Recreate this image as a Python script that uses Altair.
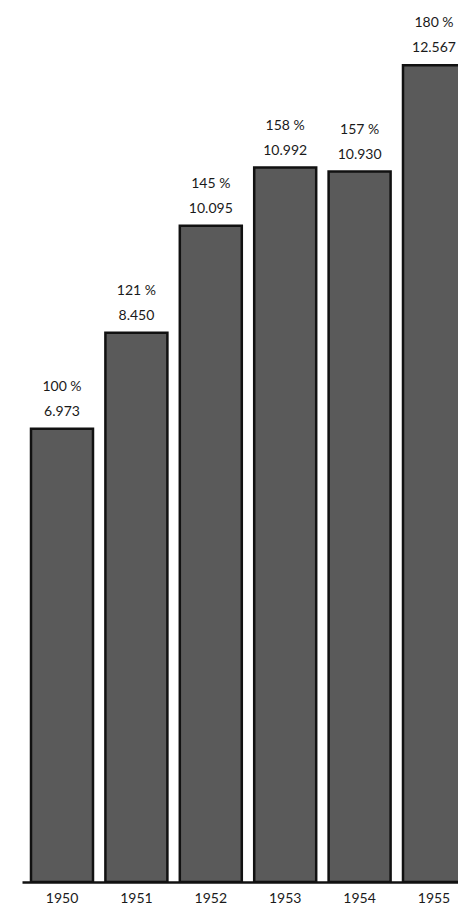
import altair as alt
import pandas as pd

years = ["1950", "1951", "1952", "1953", "1954", "1955"]
values = [6.973, 8.450, 10.095, 10.992, 10.930, 12.567]
value_labels = ["6.973", "8.450", "10.095", "10.992", "10.930", "12.567"]
pct_labels = ["100 %", "121 %", "145 %", "158 %", "157 %", "180 %"]

df = pd.DataFrame({"year": years, "value": values, "vlabel": value_labels, "plabel": pct_labels})

FONT = "Lato"

x = alt.X(
    "year:N",
    sort=years,
    title=None,
    scale=alt.Scale(range=[0, 452], paddingInner=0.1667, paddingOuter=0.121),
    axis=alt.Axis(
        labelAngle=0,
        ticks=False,
        labelPadding=9,
        labelFontSize=14,
        labelFont=FONT,
        labelColor="#1a1a1a",
        domainColor="#111",
        domainWidth=2.5,
        grid=False,
    ),
)
y = alt.Y(
    "value:Q",
    title=None,
    scale=alt.Scale(domain=[0, 13.57], nice=False, zero=True),
    axis=None,
)

bars = alt.Chart(df).mark_bar(
    fill="#5a5a5a", stroke="#111", strokeWidth=2.5, clip=True
).encode(x=x, y=y)

vtext = alt.Chart(df).mark_text(
    dy=-17, fontSize=14, font=FONT, color="#1a1a1a", baseline="middle", clip=True
).encode(x=x, y=y, text="vlabel:N")

ptext = alt.Chart(df).mark_text(
    dy=-42, fontSize=14, font=FONT, color="#1a1a1a", baseline="middle", clip=True
).encode(x=x, y=y, text="plabel:N")

chart = (
    alt.layer(bars, vtext, ptext)
    .properties(
        width=436,
        height=882,
        padding={"left": 22, "top": 0, "right": 0, "bottom": 25},
        autosize=alt.AutoSizeParams(type="none"),
        background="white",
    )
    .configure_view(stroke=None)
)

chart.save("out.html", embed_options={"renderer": "svg", "actions": False})
